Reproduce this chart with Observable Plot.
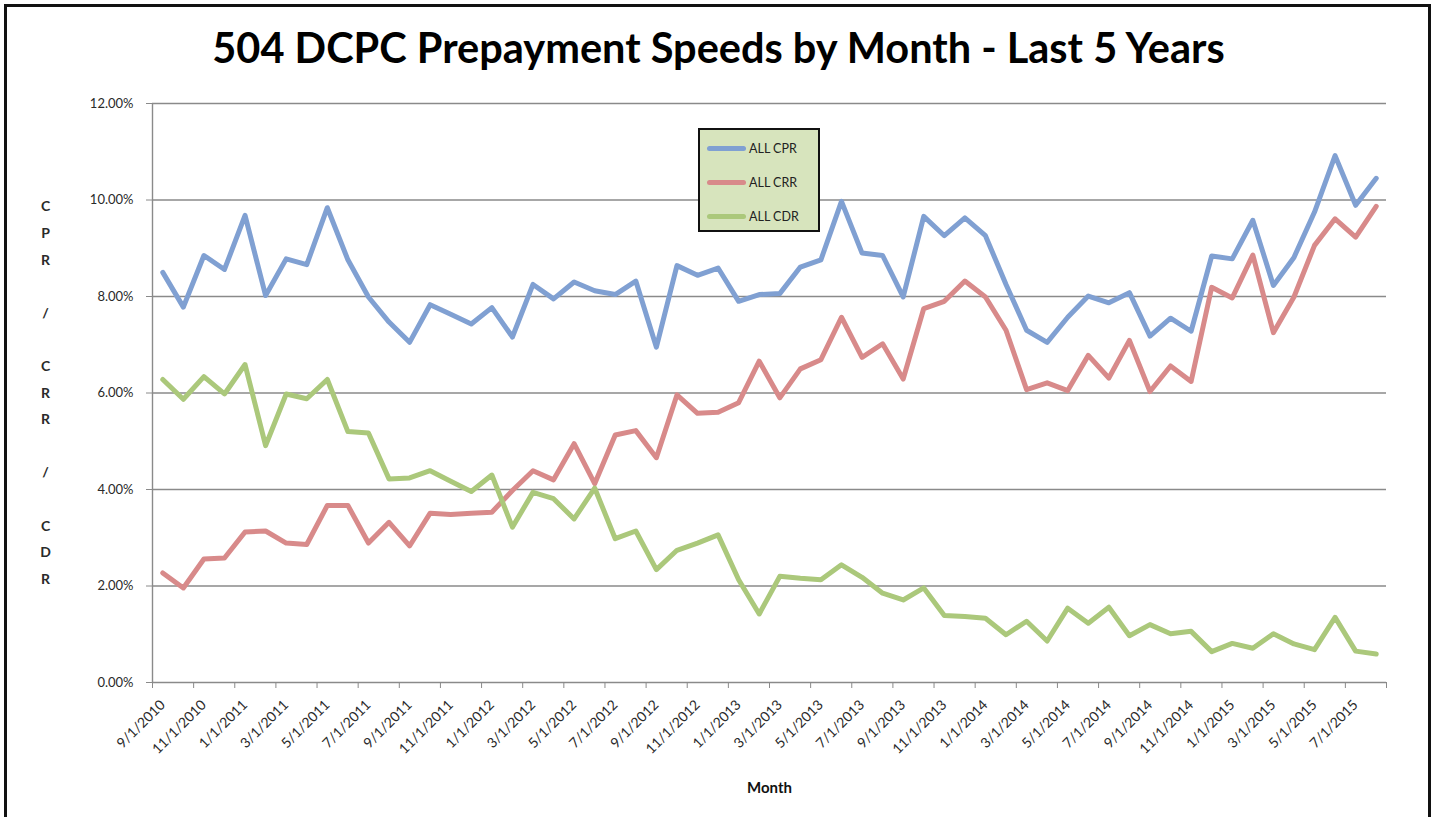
<!DOCTYPE html>
<html>
<head>
<meta charset="utf-8">
<script src="https://cdn.jsdelivr.net/npm/d3@7"></script>
<script src="https://cdn.jsdelivr.net/npm/@observablehq/plot@0.6"></script>
<style>
  html, body { margin: 0; padding: 0; background: #fff; width: 1437px; height: 817px; overflow: hidden; }
  #frame { position: absolute; left: 4px; top: 4px; width: 1421px; height: 900px; border: 3px solid #111; box-sizing: content-box; }
  #title { position: absolute; left: 0; top: 22px; width: 1437px; text-align: center; font-family: Lato, sans-serif; font-weight: bold; font-size: 41.5px; line-height: 50px; color: #000; white-space: nowrap; }
  #chart { position: absolute; left: 0; top: 88px; }
  #legend { position: absolute; left: 698px; top: 128px; width: 118px; height: 100px; background: #d7e4bd; border: 2px solid #111; font-family: Lato, sans-serif; font-size: 12.5px; color: #222; }
  .item { position: absolute; left: 7px; height: 14px; display: flex; align-items: center; }
  .swatch { width: 39px; height: 5px; border-radius: 3px; margin-right: 3px; }
</style>
</head>
<body>
<div id="frame"></div>
<div id="title">504 DCPC Prepayment Speeds by Month - Last 5 Years</div>
<div id="chart"></div>
<div id="legend"></div>
<script>
// ---- data ----
const months = [
  "9/1/2010","10/1/2010","11/1/2010","12/1/2010",
  "1/1/2011","2/1/2011","3/1/2011","4/1/2011","5/1/2011","6/1/2011","7/1/2011","8/1/2011","9/1/2011","10/1/2011","11/1/2011","12/1/2011",
  "1/1/2012","2/1/2012","3/1/2012","4/1/2012","5/1/2012","6/1/2012","7/1/2012","8/1/2012","9/1/2012","10/1/2012","11/1/2012","12/1/2012",
  "1/1/2013","2/1/2013","3/1/2013","4/1/2013","5/1/2013","6/1/2013","7/1/2013","8/1/2013","9/1/2013","10/1/2013","11/1/2013","12/1/2013",
  "1/1/2014","2/1/2014","3/1/2014","4/1/2014","5/1/2014","6/1/2014","7/1/2014","8/1/2014","9/1/2014","10/1/2014","11/1/2014","12/1/2014",
  "1/1/2015","2/1/2015","3/1/2015","4/1/2015","5/1/2015","6/1/2015","7/1/2015","8/1/2015"
];
const seriesNames = ["ALL CPR", "ALL CRR", "ALL CDR"];
const seriesColors = ["#80a0d2", "#d88a8a", "#abc87b"];
// values in percent
const cpr = [8.50,7.78,8.85,8.56,9.68,8.02,8.78,8.66,9.84,8.76,7.99,7.47,7.05,7.83,7.63,7.43,7.77,7.16,8.25,7.95,
             8.30,8.12,8.04,8.32,6.95,8.64,8.44,8.59,7.90,8.04,8.06,8.61,8.76,9.97,8.90,8.85,7.99,9.66,9.26,9.63,
             9.26,8.25,7.30,7.05,7.57,8.01,7.87,8.08,7.18,7.55,7.28,8.84,8.78,9.58,8.23,8.81,9.75,10.92,9.89,10.45];
const crr = [2.27,1.96,2.56,2.58,3.12,3.14,2.89,2.86,3.67,3.67,2.89,3.32,2.83,3.51,3.48,3.51,3.53,3.98,4.39,4.20,
             4.95,4.12,5.13,5.22,4.66,5.96,5.58,5.60,5.80,6.66,5.90,6.50,6.69,7.57,6.74,7.02,6.29,7.75,7.90,8.32,
             7.99,7.30,6.07,6.21,6.05,6.78,6.31,7.09,6.03,6.56,6.24,8.19,7.97,8.86,7.25,7.99,9.06,9.61,9.23,9.87];
const cdr = [6.28,5.87,6.34,5.98,6.59,4.91,5.98,5.88,6.28,5.20,5.17,4.22,4.24,4.39,4.17,3.96,4.30,3.22,3.94,3.81,
             3.39,4.03,2.98,3.14,2.34,2.74,2.89,3.06,2.13,1.42,2.20,2.16,2.13,2.44,2.18,1.85,1.71,1.96,1.39,1.37,
             1.33,0.99,1.27,0.86,1.54,1.23,1.56,0.97,1.20,1.01,1.06,0.64,0.81,0.71,1.01,0.80,0.68,1.35,0.65,0.59];
const yTicks = [0, 0.02, 0.04, 0.06, 0.08, 0.10, 0.12];
const yLabel = "CPR / CRR / CDR";
const xLabel = "Month";

// ---- build ----
const seriesValues = [cpr, crr, cdr];
const rows = seriesValues.map((vals, s) => vals.map((v, i) => ({i, month: months[i], series: seriesNames[s], v: v / 100})));
const stacked = yLabel.split("").map(c => c === " " ? "\u00a0" : c).join("\n");
const grey = "#8a8a8a";

const plot = Plot.plot({
  width: 1437,
  height: 729,
  marginLeft: 152,
  marginRight: 51,
  marginTop: 15,
  marginBottom: 135,
  style: {fontFamily: "Lato, sans-serif", fontSize: "13px", color: "#2a2a2a", background: "transparent"},
  x: {type: "linear", domain: [-0.5, months.length - 0.5]},
  y: {domain: [0, 0.12]},
  marks: [
    Plot.ruleY(yTicks, {stroke: grey, strokeWidth: 1.4}),
    Plot.ruleX([-0.5], {stroke: grey, strokeWidth: 1.4}),
    Plot.axisY({ticks: yTicks, tickFormat: d3.format(".2%"), tickSize: 6, tickPadding: 13, stroke: grey, strokeOpacity: 1, label: null}),
    Plot.axisX({ticks: d3.range(-0.5, months.length + 0.5, 2), tickFormat: () => "", tickSize: 6, stroke: grey, strokeOpacity: 1, label: null}),
    Plot.axisX({ticks: d3.range(0, months.length, 2), tickFormat: i => months[i], tickSize: 0, tickPadding: 20, tickRotate: -45, fontSize: 14, label: null}),
    ...rows.map((r, s) => Plot.line(r, {x: "i", y: "v", stroke: seriesColors[s], strokeWidth: 5, strokeLinejoin: "round", strokeLinecap: "round"})),
    Plot.text([stacked], {frameAnchor: "left", dx: -107, dy: -4, lineHeight: 1.9, fontWeight: "bold", fontSize: 14, textAnchor: "middle", fill: "#2a2a2a"}),
    Plot.text([xLabel], {frameAnchor: "bottom", dy: 110, fontWeight: "bold", fontSize: 15, fill: "#111"})
  ]
});
document.getElementById("chart").appendChild(plot);

// legend
const legend = document.getElementById("legend");
seriesNames.forEach((name, s) => {
  const item = document.createElement("div");
  item.className = "item";
  item.style.top = (11 + s * 34) + "px";
  item.innerHTML = `<div class="swatch" style="background:${seriesColors[s]}"></div><span>${name}</span>`;
  legend.appendChild(item);
});
</script>
</body>
</html>
